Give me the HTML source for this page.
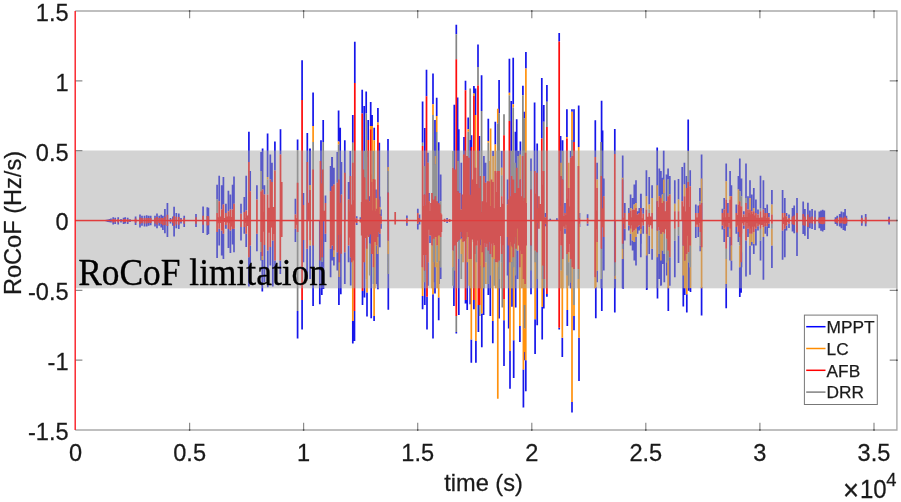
<!DOCTYPE html>
<html><head><meta charset="utf-8"><title>RoCoF</title>
<style>html,body{margin:0;padding:0;background:#fff}body{width:901px;height:502px;overflow:hidden}</style>
</head><body><svg width="901" height="502" viewBox="0 0 901 502" style="display:block">
<rect x="0" y="0" width="901" height="502" fill="#fff"/>
<defs><filter id="soft" x="-2%" y="-2%" width="104%" height="104%"><feGaussianBlur stdDeviation="0.45"/></filter></defs>
<g fill="none" id="series" filter="url(#soft)"><path d="M297.6 139.4V150.0M302.1 60.2V100.0M307.3 133.0V220.6M309.8 148.6V220.6M313.1 92.5V126.0M321.0 140.2V220.6M323.2 120.1V142.0M331.9 156.9V220.6M338.6 110.4V141.5M340.2 127.7V220.6M344.8 140.2V220.6M350.3 151.0V220.6M352.8 115.1V142.7M354.8 41.8V83.1M362.2 89.8V113.4M364.2 105.9V220.6M366.2 91.6V113.4M368.2 120.0V140.0M370.7 102.0V126.0M372.1 115.0V126.0M374.2 127.7V140.2M377.9 108.1V122.6M379.3 142.7V220.6M388.0 138.9V220.6M422.6 101.4V142.7M424.8 128.0V220.6M426.5 69.7V96.2M433.0 73.5V104.2M435.0 120.1V220.6M436.7 97.8V116.0M438.7 142.2V220.6M454.3 104.7V220.6M456.3 24.7V34.2M457.6 97.4V220.6M458.8 129.3V220.6M464.0 136.9V220.6M465.5 80.7V90.3M468.2 117.6V129.3M470.2 140.0V220.6M471.5 135.2V146.9M473.9 86.1V93.6M475.5 88.6V115.1M478.0 44.6V66.9M479.4 136.0V220.6M481.6 75.2V110.9M488.3 118.8V141.0M495.3 121.8V144.4M499.1 79.9V113.4M509.4 58.8V92.8M511.2 100.9V220.6M513.2 57.8V104.2M515.4 131.8V220.6M516.7 119.3V220.6M520.4 141.5V220.6M522.9 85.8V95.3M524.1 111.8V118.4M525.9 52.1V68.5M531.0 158.6V220.6M534.6 102.5V220.6M537.2 143.5V220.6M541.8 78.1V138.5M543.8 105.0V121.8M546.9 84.9V101.7M559.2 33.1V41.4M560.6 136.0V220.6M562.6 140.2V220.6M566.9 109.2V137.0M572.0 109.2V111.8M574.0 109.2V141.9M578.7 105.4V146.9M595.3 120.3V157.0M601.6 100.8V220.6M602.6 130.4V220.6M614.8 129.0V154.0M622.7 155.5V220.6M657.2 147.5V220.6M663.7 150.8V220.6M688.2 119.5V151.0M701.6 154.6V220.6M217.1 184.8V199.5M219.2 175.8V201.2M221.7 185.3V209.6M223.4 177.0V204.6M225.9 203.7V213.0M228.4 190.8V211.3M230.4 194.5V209.6M232.6 184.8V209.6M234.0 176.5V203.7M241.0 203.7V213.8M244.3 197.0V212.1M246.2 175.8V210.4M250.2 171.1V191.2M256.9 185.3V199.5M261.1 151.9V171.1M264.4 185.3V194.5M270.3 154.4V179.5M272.0 162.7V182.0M295.4 198.7V214.6M303.4 192.9V205.0M310.1 148.5V185.0M325.5 195.4V202.9M330.6 166.1V191.2M332.2 156.9V186.2M333.9 167.8V184.5M337.3 151.9V182.8M341.4 161.9V194.5M348.6 182.0V199.5M248.9 131.8V162.0M262.6 148.6V189.5M267.6 133.5V177.0M274.9 141.5V170.5M280.5 129.3V154.4M356.7 216.3V218.3M360.4 217.2V219.0M366.4 151.0V167.1M369.4 196.2V201.2M376.0 189.4V198.1M379.8 196.6V206.9M381.0 209.6V216.3M406.9 215.5V218.0M417.8 208.8V213.0M419.5 214.6V218.0M427.9 152.7V162.7M429.0 192.9V201.2M440.7 174.5V201.2M447.1 218.0V219.7M461.3 162.7V209.6M483.9 156.0V176.1M485.6 162.7V182.8M493.1 151.0V156.0M501.7 151.0V167.8M507.6 179.5V204.6M518.4 151.0V156.0M545.2 213.0V217.2M550.2 218.8V220.6M556.9 218.3V220.6M565.0 202.9V213.0M570.7 151.0V157.7M579.5 213.0V218.0M587.6 214.3V218.0M597.1 162.7V179.5M603.8 178.6V196.2M624.8 202.9V213.0M628.9 207.9V213.0M630.6 194.6V207.9M632.6 197.9V209.6M634.3 184.5V204.6M636.0 180.3V202.9M637.6 211.3V214.6M639.3 207.9V213.0M641.0 193.7V211.3M643.2 207.9V213.8M640.8 193.7V207.9M646.4 170.3V196.2M649.2 177.0V204.6M652.1 185.3V197.9M659.3 168.6V196.2M660.9 171.1V197.9M662.6 177.8V194.6M666.5 174.5V201.2M668.1 168.6V179.5M669.8 176.1V194.6M674.8 180.3V203.8M678.5 179.1V199.6M682.2 166.9V201.2M684.4 162.7V184.5M686.5 176.1V187.9M690.2 170.3V186.2M695.8 204.6V213.0M698.3 205.4V213.0M699.9 187.9V201.2M722.4 208.8V213.0M724.2 197.9V209.6M726.2 163.6V181.2M727.9 202.9V213.0M730.1 171.1V196.2M731.4 185.3V196.2M736.3 204.6V213.0M738.4 176.1V189.5M739.8 158.6V191.2M741.5 178.6V196.2M743.8 211.3V214.6M746.0 163.6V197.9M748.0 196.2V209.6M750.0 180.3V197.9M751.8 194.6V211.3M753.8 187.9V207.9M755.9 199.6V213.0M758.0 209.6V214.6M760.5 175.8V207.9M763.4 180.3V209.6M765.2 207.9V213.0M767.2 204.6V213.0M768.9 213.0V217.2M771.9 189.9V204.6M782.6 189.9V213.0M784.8 197.9V213.0M786.5 213.0V216.3M789.0 214.6V218.0M297.6 338.6V311.0M302.1 329.4V300.1M313.1 305.9V220.6M319.8 304.3V220.6M321.8 295.0V220.6M323.5 289.0V220.6M338.9 305.1V220.6M340.8 294.2V220.6M352.8 343.6V321.0M354.5 341.0V311.0M362.5 305.1V290.9M364.5 297.6V220.6M367.0 316.5V292.5M371.2 318.2V220.6M374.1 321.0V316.0M377.9 289.2V220.6M388.3 309.8V220.6M422.6 309.3V295.9M424.8 305.0V220.6M427.0 329.4V296.7M433.0 338.6V294.2M435.0 293.4V220.6M438.7 320.2V297.6M453.9 305.9V220.6M456.3 333.5V331.9M458.8 315.1V220.6M465.5 303.4V300.0M467.2 310.1V220.6M470.2 304.3V220.6M471.3 362.7V339.4M473.9 309.3V300.0M475.9 362.7V341.1M478.4 331.9V305.0M481.8 347.3V313.5M483.6 315.0V220.6M488.3 295.0V220.6M490.3 316.0V220.6M492.8 343.3V321.0M499.1 318.5V220.6M504.0 366.1V320.2M508.7 328.5V220.6M510.0 388.7V351.0M512.0 306.8V220.6M513.7 378.1V340.2M515.7 307.6V220.6M519.9 341.9V326.0M523.4 407.6V369.4M524.6 360.3V352.0M525.8 391.2V360.2M531.0 294.2V220.6M535.1 354.0V319.3M537.2 325.2V220.6M542.2 339.4V306.8M543.8 308.4V220.6M546.9 296.7V294.0M559.2 329.4V327.7M562.3 356.9V337.7M567.3 326.0V310.1M572.0 412.6V402.1M574.0 330.2V316.0M579.0 381.1V337.7M595.8 318.2V287.0M601.8 311.0V220.6M614.8 312.6V220.6M623.2 288.7V220.6M647.0 289.2V220.6M657.5 298.4V220.6M661.2 285.0V220.6M668.3 311.0V287.0M683.3 306.4V220.6M684.7 295.0V220.6M686.8 312.6V294.2M690.5 292.0V288.0M701.6 315.5V287.0M217.1 258.0V232.0M219.2 245.5V228.7M221.7 255.5V230.4M223.4 258.9V233.8M225.9 228.7V225.0M228.4 248.0V229.0M230.4 253.0V230.4M232.6 244.6V229.0M234.0 252.2V228.7M241.0 240.4V227.0M244.3 233.8V227.0M246.2 247.1V233.8M248.9 286.5V257.2M250.2 267.2V245.5M256.9 251.3V233.8M261.1 260.5V252.0M262.3 291.5V260.0M264.4 282.3V245.0M267.8 287.3V250.5M270.3 265.5V247.0M272.8 286.5V240.4M275.0 267.2V260.5M280.3 273.9V260.5M295.4 242.1V228.7M303.4 262.2V240.0M307.1 279.0V248.8M310.1 279.0V245.5M325.5 242.1V233.8M330.6 277.3V248.8M332.2 260.5V245.5M333.9 265.5V257.0M337.3 270.6V252.2M344.8 284.0V252.2M348.6 262.2V245.5M350.7 285.6V257.2M356.7 225.1V222.9M369.8 243.8V233.8M376.5 284.0V245.5M377.6 285.7V253.9M379.8 247.2V233.8M381.0 228.7V223.7M406.9 225.7V222.9M417.8 229.6V223.7M419.5 224.6V222.0M427.9 285.7V262.2M430.0 243.0V235.4M433.7 282.3V262.2M439.1 284.0V260.6M440.7 279.0V267.2M447.1 223.0V221.7M454.6 288.2V270.6M458.8 288.2V258.9M461.3 238.8V232.1M467.2 288.2V262.2M480.3 245.5V235.4M490.3 288.2V275.6M499.2 288.2V279.0M507.6 275.6V237.1M515.4 288.2V275.6M517.6 279.0V250.5M531.0 288.2V270.6M545.6 226.2V223.7M565.0 233.8V228.7M570.7 288.2V282.3M579.5 227.1V223.7M587.6 225.7V223.4M597.1 282.3V270.6M601.3 288.2V279.0M603.8 270.6V237.1M615.2 288.2V279.0M622.6 288.2V258.9M624.8 240.5V228.7M628.9 230.4V225.4M630.6 245.5V233.8M632.6 250.5V240.5M634.3 260.6V242.1M636.0 265.6V237.1M637.6 233.8V227.1M639.3 230.4V225.4M641.0 243.8V227.1M643.2 233.8V225.4M640.8 257.2V233.8M646.7 289.9V255.5M649.2 253.9V235.4M652.1 259.7V248.8M657.2 288.2V257.2M659.3 279.0V253.9M660.9 285.7V260.6M662.6 263.9V250.5M664.3 282.3V253.9M666.8 275.6V262.2M669.8 285.7V257.2M674.8 277.3V240.5M678.5 263.1V235.4M683.2 288.2V275.6M688.6 290.7V262.2M690.2 288.2V267.2M695.8 238.0V227.1M698.3 237.1V227.1M700.3 251.3V245.5M722.4 229.6V225.4M724.2 242.1V228.7M726.2 308.3V284.0M727.9 237.1V227.1M730.1 260.6V237.1M731.4 270.6V260.6M736.3 233.8V227.1M738.4 242.1V232.1M739.8 296.9V267.2M741.1 292.7V262.2M741.5 267.2V252.2M743.8 228.7V225.4M746.0 276.5V240.5M748.0 237.1V228.7M750.0 274.8V245.5M751.8 245.5V242.1M753.8 253.9V243.8M755.9 245.5V228.7M758.0 230.4V226.2M760.5 260.6V240.5M763.4 279.8V237.1M765.2 233.8V226.2M767.2 236.3V226.2M768.9 227.9V223.7M771.9 268.1V245.5M782.6 259.7V230.4M784.8 257.2V228.7M786.5 230.4V225.4M789.0 227.9V223.7M106.5 219.8V221.5M108.0 219.4V221.9M109.5 219.0V222.3M111.0 218.6V222.6M113.2 217.3V224.5M115.2 217.8V224.0M118.2 217.3V224.5M121.0 219.0V222.4M123.6 217.8V224.0M125.2 217.3V223.5M127.7 217.8V224.0M130.0 219.3V222.0M135.6 216.5V224.9M140.0 214.5V227.4M142.0 215.7V225.7M144.5 215.7V226.5M146.7 215.2V226.5M148.7 215.7V225.7M150.7 215.7V225.2M155.0 215.7V226.5M157.0 213.6V228.2M159.2 215.7V225.7M161.2 214.8V227.4M162.9 215.7V229.9M164.9 209.0V233.2M167.4 203.1V236.9M170.5 218.0V223.5M172.9 216.5V225.7M174.1 206.8V236.6M176.3 213.1V228.2M178.8 213.6V229.0M181.0 218.0V223.5M184.2 215.7V226.9M196.0 214.0V226.9M203.1 206.4V232.9M207.3 207.3V234.9M208.4 207.8V234.0M792.5 208.1V231.6M794.2 205.6V233.2M797.0 198.1V255.9M803.2 201.4V234.1M804.9 209.0V235.8M807.9 202.8V239.1M809.9 210.6V228.2M812.1 209.0V229.1M815.0 210.6V229.9M819.3 211.5V228.2M821.0 210.6V230.7M822.7 209.8V231.6M824.3 210.6V229.9M835.5 217.3V224.0M837.2 215.7V225.7M839.7 214.0V226.6M841.4 211.5V228.2M843.4 212.3V229.9M845.1 209.0V230.7M846.4 215.7V225.7M861.8 215.2V225.7M865.7 214.0V226.2M889.1 216.8V224.5" stroke="#1616ea" stroke-width="1.7"/>
<path d="M313.1 126.0V142.0M338.6 141.5V144.4M370.7 126.0V129.3M372.1 126.0V220.6M374.2 140.2V220.6M377.9 122.6V125.1M433.0 104.2V115.1M436.7 116.0V132.0M468.2 129.3V131.8M473.9 93.6V96.0M475.5 115.1V220.6M488.3 141.0V142.7M490.6 128.5V220.6M495.3 144.4V220.6M497.8 108.7V123.5M509.4 92.8V95.3M513.2 104.2V107.6M525.9 68.5V220.6M566.9 137.0V138.5M572.0 111.8V140.0M578.7 146.9V220.6M310.1 185.0V190.0M267.6 177.0V179.5M366.4 167.1V199.6M371.4 174.5V182.0M376.0 198.1V214.3M379.8 206.9V214.3M388.2 166.9V171.1M435.4 156.0V164.4M489.3 161.1V181.2M493.1 156.0V182.0M501.7 167.8V175.3M520.1 154.4V179.5M561.1 162.7V176.1M568.7 162.7V187.9M597.1 179.5V187.9M622.6 177.8V179.5M630.6 207.9V210.5M634.3 204.6V209.6M636.0 202.9V207.9M646.4 196.2V209.6M649.2 204.6V209.6M652.1 197.9V213.0M657.2 185.3V201.2M662.6 194.6V202.9M663.9 179.5V192.9M674.8 203.8V211.3M678.5 199.6V211.3M684.4 184.5V196.2M701.6 178.6V202.9M726.2 181.2V199.6M730.1 196.2V199.6M738.4 189.5V204.6M750.0 197.9V209.6M753.8 207.9V211.3M771.9 204.6V214.6M352.8 321.0V220.6M367.0 292.5V220.6M374.1 316.0V220.6M422.6 295.9V220.6M433.0 294.2V220.6M438.7 297.6V220.6M471.3 339.4V220.6M475.9 341.1V220.6M481.8 313.5V220.6M492.8 321.0V220.6M497.8 398.7V220.6M504.0 320.2V299.2M510.0 351.0V220.6M513.7 340.2V220.6M519.9 326.0V220.6M523.4 369.4V220.6M524.6 352.0V328.5M524.6 305.0V220.6M525.8 360.2V220.6M535.1 319.3V220.6M542.2 306.8V220.6M562.3 337.7V220.6M567.3 310.1V220.6M572.0 402.1V220.6M574.0 316.0V305.1M579.0 337.7V220.6M595.8 287.0V220.6M668.3 287.0V220.6M686.8 294.2V220.6M690.5 288.0V220.6M701.6 287.0V220.6M262.3 260.0V256.0M310.1 245.5V240.4M333.9 257.0V250.5M339.3 277.0V262.2M366.7 279.0V248.8M374.8 288.2V242.1M377.6 253.9V237.1M388.2 253.9V240.5M422.3 288.2V267.2M432.0 288.2V245.5M435.4 267.2V237.1M437.1 288.2V262.2M439.1 260.6V235.4M453.0 267.2V250.5M461.3 253.9V238.8M463.0 262.2V242.1M467.2 262.2V232.1M469.2 285.7V258.9M470.9 288.2V258.9M474.7 288.2V253.9M480.3 265.6V245.5M482.3 288.2V252.2M485.9 284.0V262.2M492.3 288.2V257.2M494.3 258.9V245.5M498.7 267.2V253.9M495.8 288.2V262.2M501.7 288.2V262.2M509.7 288.2V262.2M511.7 262.2V245.5M513.4 288.2V267.2M517.6 250.5V228.7M519.8 288.2V267.2M521.8 288.2V253.9M523.5 288.2V279.0M525.1 288.2V284.0M535.2 288.2V262.2M542.7 288.2V279.0M561.1 288.2V270.6M562.8 288.2V258.9M567.0 288.2V275.6M568.7 262.2V252.2M578.4 288.2V279.0M595.1 288.2V277.3M597.1 270.6V242.1M615.2 279.0V275.6M622.6 258.9V248.8M630.6 233.8V228.7M632.6 240.5V232.1M634.3 242.1V230.4M636.0 237.1V228.7M640.8 233.8V228.7M646.7 255.5V233.8M649.2 235.4V227.1M652.1 248.8V228.7M657.2 257.2V230.4M660.9 260.6V233.8M662.6 250.5V232.1M668.1 288.2V260.6M683.2 275.6V245.5M684.9 288.2V260.6M686.5 288.2V253.9M701.6 288.2V247.2M726.2 284.0V258.9M730.1 237.1V228.7M731.4 260.6V245.5M739.8 267.2V245.5M750.0 245.5V233.8M751.8 242.1V233.8M753.8 243.8V232.1M763.4 237.1V227.1M771.9 245.5V228.7" stroke="#ff9210" stroke-width="1.7"/>
<path d="M297.6 150.0V220.6M313.1 142.0V220.6M323.2 142.0V220.6M338.6 144.4V220.6M352.8 142.7V220.6M366.2 113.4V220.6M422.6 142.7V146.0M433.0 115.1V220.6M436.7 132.0V220.6M456.3 34.2V59.3M468.2 131.8V220.6M470.2 88.6V140.0M478.0 66.9V85.6M481.6 110.9V220.6M488.3 142.7V220.6M497.8 123.5V220.6M499.1 113.4V220.6M504.0 114.3V135.2M509.4 95.3V121.0M513.2 107.6V220.6M522.9 95.3V220.6M524.1 118.4V220.6M543.8 121.8V220.6M546.9 101.7V127.1M572.0 140.0V220.6M601.0 142.0V220.6M688.2 151.0V220.6M217.1 199.5V212.9M261.1 171.1V191.2M267.6 179.5V194.5M364.7 151.0V177.5M368.1 151.0V156.9M373.4 151.0V179.0M388.2 171.1V192.5M424.5 166.1V194.6M433.7 151.0V199.6M435.4 164.4V196.2M440.7 201.2V213.0M453.0 151.0V167.8M458.0 161.1V191.2M478.9 151.0V187.9M497.5 151.0V171.1M501.7 175.3V196.2M511.7 151.0V176.1M515.1 162.7V192.9M518.4 156.0V187.9M531.0 171.1V189.5M562.8 151.0V179.5M649.2 209.6V213.0M663.9 192.9V201.2M668.1 179.5V196.2M699.9 201.2V204.6M739.8 191.2V201.2M741.5 196.2V206.3M746.0 197.9V202.9M760.5 207.9V211.3M297.6 311.0V220.6M456.3 331.9V316.0M479.7 316.0V305.0M502.3 307.6V220.6M524.6 328.5V305.0M574.0 305.1V220.6M261.1 252.0V242.0M322.2 262.0V257.2M369.8 275.6V243.8M373.4 284.0V267.2M388.2 273.9V253.9M424.5 282.3V270.6M433.7 262.2V238.8M437.1 262.2V245.5M440.7 267.2V237.1M453.0 285.7V267.2M454.6 270.6V245.5M458.8 258.9V240.5M461.3 279.0V253.9M476.4 262.2V245.5M480.3 288.2V265.6M483.9 288.2V267.2M485.9 262.2V247.2M488.1 284.0V250.5M490.3 275.6V253.9M494.3 285.7V258.9M498.7 288.2V267.2M499.2 279.0V260.6M501.7 262.2V253.9M511.7 288.2V262.2M513.4 267.2V257.2M515.4 275.6V237.1M531.0 270.6V245.5M535.2 262.2V250.5M536.9 279.0V252.2M542.7 279.0V265.6M544.4 288.2V279.0M561.1 270.6V245.5M567.0 275.6V253.9M568.7 285.7V262.2M570.7 282.3V258.9M574.0 288.2V268.9M578.4 279.0V268.9M601.3 279.0V248.8M615.2 275.6V262.2M622.6 248.8V243.8M659.3 253.9V230.4M664.3 253.9V233.8M666.8 262.2V238.8M668.1 260.6V250.5M674.8 240.5V228.7M678.5 235.4V227.1M688.6 262.2V252.2M690.2 267.2V245.5M700.3 245.5V232.1M726.2 258.9V248.8M739.8 245.5V237.1M741.5 252.2V233.8M760.5 240.5V228.7M771.9 228.7V223.7" stroke="#858585" stroke-width="1.7"/>
<path d="M302.1 100.0V220.6M354.8 83.1V220.6M362.2 113.4V220.6M368.2 140.0V220.6M370.7 129.3V220.6M377.9 125.1V220.6M422.6 146.0V220.6M426.5 96.2V220.6M456.3 59.3V220.6M465.5 90.3V220.6M471.5 146.9V220.6M473.9 96.0V220.6M478.0 85.6V220.6M504.0 135.2V220.6M509.4 121.0V220.6M541.8 138.5V220.6M546.9 127.1V220.6M559.2 41.4V220.6M566.9 138.5V220.6M574.0 141.9V220.6M595.3 157.0V220.6M614.8 154.0V220.6M217.1 212.9V220.6M219.2 201.2V220.6M221.7 209.6V220.6M223.4 204.6V220.6M225.9 213.0V220.6M228.4 211.3V220.6M230.4 209.6V220.6M232.6 209.6V220.6M234.0 203.7V220.6M241.0 213.8V220.6M244.3 212.1V220.6M246.2 210.4V220.6M250.2 191.2V220.6M256.9 199.5V220.6M261.1 191.2V220.6M264.4 194.5V220.6M270.3 179.5V220.6M272.0 182.0V220.6M281.7 182.0V220.6M295.4 214.6V220.6M297.6 182.8V220.6M303.4 205.0V220.6M307.3 161.9V220.6M310.1 190.0V220.6M313.1 169.4V220.6M320.5 161.0V220.6M322.7 169.4V220.6M325.5 202.9V220.6M330.6 191.2V220.6M332.2 186.2V220.6M333.9 184.5V220.6M337.3 182.8V220.6M338.9 179.5V220.6M341.4 194.5V220.6M344.8 172.8V220.6M348.6 199.5V220.6M350.5 176.1V220.6M352.8 162.7V220.6M248.9 162.0V220.6M262.6 189.5V220.6M267.6 194.5V220.6M274.9 170.5V220.6M280.5 154.4V220.6M356.7 218.3V220.6M360.4 219.0V220.6M363.4 169.4V220.6M364.7 177.5V220.6M366.4 199.6V220.6M368.1 156.9V220.6M369.4 201.2V220.6M371.4 182.0V220.6M373.4 179.0V220.6M374.8 179.5V220.6M376.0 214.3V220.6M378.8 199.6V220.6M379.8 214.3V220.6M381.0 216.3V220.6M361.7 202.1V220.6M362.7 199.6V220.6M364.1 202.9V220.6M365.6 200.4V220.6M367.2 202.1V220.6M368.8 203.8V220.6M370.1 201.2V220.6M372.3 210.5V220.6M374.1 207.9V220.6M375.4 211.3V220.6M376.8 208.8V220.6M378.1 212.1V220.6M388.2 192.5V220.6M395.2 212.1V220.6M406.9 218.0V220.6M417.8 213.0V220.6M419.5 218.0V220.6M424.5 194.6V220.6M427.9 162.7V220.6M429.0 201.2V220.6M432.0 192.9V220.6M433.7 199.6V220.6M435.4 196.2V220.6M437.1 201.2V220.6M438.7 202.9V220.6M440.7 213.0V220.6M431.0 202.9V220.6M432.9 201.2V220.6M434.5 202.1V220.6M436.2 201.2V220.6M437.9 203.8V220.6M439.7 204.6V220.6M441.4 214.6V220.6M444.6 218.8V220.6M447.1 219.7V220.6M449.6 219.0V220.6M453.0 167.8V220.6M454.6 169.4V220.6M458.0 191.2V220.6M459.7 192.9V220.6M461.3 209.6V220.6M462.5 194.6V220.6M463.8 154.4V220.6M467.2 156.0V220.6M468.9 157.7V220.6M475.6 167.8V220.6M478.9 187.9V220.6M480.3 176.1V220.6M482.3 201.2V220.6M483.9 176.1V220.6M485.6 182.8V220.6M487.6 181.2V220.6M489.3 181.2V220.6M491.5 179.5V220.6M493.1 182.0V220.6M495.3 171.1V220.6M497.3 172.8V220.6M499.0 171.1V220.6M497.5 171.1V220.6M501.7 196.2V220.6M507.6 204.6V220.6M511.7 176.1V220.6M513.4 179.5V220.6M515.1 192.9V220.6M516.8 167.8V220.6M518.4 187.9V220.6M520.1 179.5V220.6M522.6 156.0V220.6M525.5 152.7V220.6M508.4 199.6V220.6M510.4 196.2V220.6M512.4 197.9V220.6M514.1 201.2V220.6M515.8 196.2V220.6M517.6 199.6V220.6M519.4 197.9V220.6M521.3 196.2V220.6M523.1 201.2V220.6M524.5 197.9V220.6M526.1 202.9V220.6M531.0 189.5V220.6M534.8 171.1V220.6M536.9 172.8V220.6M538.9 196.2V220.6M543.6 171.1V220.6M545.2 217.2V220.6M561.1 176.1V220.6M562.8 179.5V220.6M565.0 213.0V220.6M568.7 187.9V220.6M570.7 157.7V220.6M572.3 156.0V220.6M578.4 166.1V220.6M579.5 218.0V220.6M587.6 218.0V220.6M597.1 187.9V220.6M601.3 176.1V220.6M603.8 196.2V220.6M622.6 179.5V220.6M624.8 213.0V220.6M628.9 213.0V220.6M630.6 210.5V220.6M632.6 209.6V220.6M634.3 209.6V220.6M636.0 207.9V220.6M637.6 214.6V220.6M639.3 213.0V220.6M641.0 211.3V220.6M643.2 213.8V220.6M640.8 207.9V220.6M646.4 209.6V220.6M649.2 213.0V220.6M652.1 213.0V220.6M657.2 201.2V220.6M659.3 196.2V220.6M660.9 197.9V220.6M662.6 202.9V220.6M663.9 201.2V220.6M666.5 201.2V220.6M668.1 196.2V220.6M669.8 194.6V220.6M674.8 211.3V220.6M678.5 211.3V220.6M682.2 201.2V220.6M684.4 196.2V220.6M686.5 187.9V220.6M688.2 182.0V220.6M690.2 186.2V220.6M695.8 213.0V220.6M698.3 213.0V220.6M699.9 204.6V220.6M701.6 202.9V220.6M722.4 213.0V220.6M724.2 209.6V220.6M726.2 199.6V220.6M727.9 213.0V220.6M730.1 199.6V220.6M731.4 196.2V220.6M736.3 213.0V220.6M738.4 204.6V220.6M739.8 201.2V220.6M741.5 206.3V220.6M743.8 214.6V220.6M746.0 202.9V220.6M748.0 209.6V220.6M750.0 209.6V220.6M751.8 211.3V220.6M753.8 211.3V220.6M755.9 213.0V220.6M758.0 214.6V220.6M760.5 211.3V220.6M763.4 209.6V220.6M765.2 213.0V220.6M767.2 213.0V220.6M768.9 217.2V220.6M771.9 214.6V220.6M782.6 213.0V220.6M784.8 213.0V220.6M786.5 216.3V220.6M789.0 218.0V220.6M218.1 217.2V220.6M220.4 216.6V220.6M222.6 214.1V220.6M224.7 218.1V220.6M227.2 216.5V220.6M229.4 216.3V220.6M231.5 217.0V220.6M233.3 214.8V220.6M245.2 217.9V220.6M247.6 215.5V220.6M261.9 210.9V220.6M263.5 211.7V220.6M269.0 207.8V220.6M271.1 194.7V220.6M273.4 206.9V220.6M296.5 218.2V220.6M308.7 202.8V220.6M321.6 183.4V220.6M324.1 210.7V220.6M331.4 206.5V220.6M333.0 195.2V220.6M338.1 208.5V220.6M340.1 202.7V220.6M349.6 211.5V220.6M351.6 204.4V220.6M353.8 200.2V220.6M355.7 219.6V220.6M361.0 219.5V220.6M418.6 219.6V220.6M423.6 206.0V220.6M425.5 205.3V220.6M427.2 193.5V220.6M430.0 210.9V220.6M445.8 220.3V220.6M448.4 220.3V220.6M453.8 200.5V220.6M455.5 189.6V220.6M457.1 206.1V220.6M458.8 208.4V220.6M460.5 214.4V220.6M463.2 207.5V220.6M464.7 191.8V220.6M466.3 178.2V220.6M468.0 182.0V220.6M470.2 194.8V220.6M472.7 179.4V220.6M474.7 192.3V220.6M476.8 183.9V220.6M479.6 200.0V220.6M481.3 212.3V220.6M483.1 206.3V220.6M484.8 207.3V220.6M486.6 202.2V220.6M488.5 195.3V220.6M490.4 206.1V220.6M492.3 200.5V220.6M494.2 208.3V220.6M496.3 191.9V220.6M498.3 188.7V220.6M500.4 207.0V220.6M502.8 203.7V220.6M511.1 209.8V220.6M522.0 205.7V220.6M523.8 209.6V220.6M535.9 193.8V220.6M537.9 208.3V220.6M540.3 204.1V220.6M542.7 184.7V220.6M544.4 218.8V220.6M546.1 218.5V220.6M560.2 206.0V220.6M562.0 195.3V220.6M563.9 216.1V220.6M565.9 214.9V220.6M567.8 198.7V220.6M569.7 206.6V220.6M571.5 190.8V220.6M573.2 181.8V220.6M596.2 210.4V220.6M602.6 208.2V220.6M623.7 217.7V220.6M629.8 217.9V220.6M631.6 217.3V220.6M633.5 213.5V220.6M635.1 216.7V220.6M636.8 218.1V220.6M638.5 217.8V220.6M640.1 215.3V220.6M642.1 218.3V220.6M647.8 216.8V220.6M650.6 216.4V220.6M658.2 207.1V220.6M660.1 205.4V220.6M661.8 208.4V220.6M663.3 213.1V220.6M665.2 211.2V220.6M667.3 211.7V220.6M669.0 203.6V220.6M683.3 206.5V220.6M685.5 211.6V220.6M687.4 208.2V220.6M689.2 206.7V220.6M697.0 217.5V220.6M699.1 216.6V220.6M700.8 211.6V220.6M723.3 217.4V220.6M725.2 217.3V220.6M727.1 216.9V220.6M729.0 217.0V220.6M730.7 208.9V220.6M737.4 215.0V220.6M739.1 210.8V220.6M740.6 213.0V220.6M742.6 217.2V220.6M744.9 217.0V220.6M747.0 217.0V220.6M749.0 212.9V220.6M750.9 214.5V220.6M752.8 214.1V220.6M754.9 215.6V220.6M756.9 217.8V220.6M759.3 217.7V220.6M762.0 217.4V220.6M764.3 216.1V220.6M766.2 218.1V220.6M768.1 219.5V220.6M783.7 217.6V220.6M785.7 219.0V220.6M787.7 219.4V220.6M302.1 300.1V220.6M354.5 311.0V220.6M362.5 290.9V220.6M427.0 296.7V220.6M456.3 316.0V220.6M465.5 300.0V220.6M473.9 300.0V220.6M478.4 305.0V220.6M479.7 305.0V220.6M504.0 299.2V220.6M546.9 294.0V220.6M559.2 327.7V220.6M217.1 232.0V220.6M219.2 228.7V220.6M221.7 230.4V220.6M223.4 233.8V220.6M225.9 225.0V220.6M228.4 229.0V220.6M230.4 230.4V220.6M232.6 229.0V220.6M234.0 228.7V220.6M241.0 227.0V220.6M244.3 227.0V220.6M246.2 233.8V220.6M248.9 257.2V220.6M250.2 245.5V220.6M256.9 233.8V220.6M261.1 242.0V220.6M262.3 256.0V220.6M264.4 245.0V220.6M267.8 250.5V220.6M270.3 247.0V220.6M272.8 240.4V220.6M275.0 260.5V220.6M280.3 260.5V220.6M281.7 237.1V220.6M295.4 228.7V220.6M297.6 232.0V220.6M303.4 240.0V220.6M307.1 248.8V220.6M310.1 240.4V220.6M313.1 245.5V220.6M320.3 260.5V220.6M322.2 257.2V220.6M325.5 233.8V220.6M330.6 248.8V220.6M332.2 245.5V220.6M333.9 250.5V220.6M337.3 252.2V220.6M339.3 262.2V220.6M341.2 253.8V220.6M344.8 252.2V220.6M348.6 245.5V220.6M350.7 257.2V220.6M353.0 260.5V220.6M351.7 262.2V220.6M356.7 222.9V220.6M360.4 222.4V220.6M364.2 262.2V220.6M366.7 248.8V220.6M369.8 233.8V220.6M371.8 253.9V220.6M373.4 267.2V220.6M374.8 242.1V220.6M376.5 245.5V220.6M377.6 237.1V220.6M379.8 233.8V220.6M381.0 223.7V220.6M361.7 235.4V220.6M363.1 237.1V220.6M364.7 234.6V220.6M365.9 238.0V220.6M367.6 235.4V220.6M368.8 237.1V220.6M370.4 234.6V220.6M372.6 236.3V220.6M374.1 233.8V220.6M375.8 235.4V220.6M377.1 232.9V220.6M378.5 232.1V220.6M388.2 240.5V220.6M395.2 224.6V220.6M406.9 222.9V220.6M417.8 223.7V220.6M419.5 222.0V220.6M422.3 267.2V220.6M424.5 270.6V220.6M427.9 262.2V220.6M430.0 235.4V220.6M432.0 245.5V220.6M433.7 238.8V220.6M435.4 237.1V220.6M437.1 245.5V220.6M439.1 235.4V220.6M440.7 237.1V220.6M431.0 235.4V220.6M432.7 237.1V220.6M434.4 234.6V220.6M436.1 236.3V220.6M437.9 235.4V220.6M439.9 234.6V220.6M441.4 232.1V220.6M444.6 222.0V220.6M447.1 221.7V220.6M449.6 222.0V220.6M453.0 250.5V220.6M454.6 245.5V220.6M458.8 240.5V220.6M461.3 232.1V220.6M463.0 242.1V220.6M467.2 232.1V220.6M469.2 258.9V220.6M470.9 258.9V220.6M474.7 253.9V220.6M476.4 245.5V220.6M480.3 235.4V220.6M482.3 252.2V220.6M483.9 267.2V220.6M485.9 247.2V220.6M488.1 250.5V220.6M490.3 253.9V220.6M492.3 257.2V220.6M494.3 245.5V220.6M496.5 255.5V220.6M498.7 253.9V220.6M453.5 240.5V220.6M455.5 238.8V220.6M457.1 242.1V220.6M459.8 239.6V220.6M462.2 237.1V220.6M464.2 241.3V220.6M465.9 238.8V220.6M468.2 237.1V220.6M469.9 240.5V220.6M471.9 239.6V220.6M473.6 242.1V220.6M475.6 238.8V220.6M477.6 240.5V220.6M479.2 237.1V220.6M481.3 239.6V220.6M483.1 241.3V220.6M484.9 243.0V220.6M486.9 243.8V220.6M489.0 242.1V220.6M491.1 243.8V220.6M493.3 243.0V220.6M495.3 244.6V220.6M497.3 243.0V220.6M499.3 243.8V220.6M495.8 262.2V220.6M497.5 262.2V220.6M499.2 260.6V220.6M501.7 253.9V220.6M507.6 237.1V220.6M509.7 262.2V220.6M511.7 245.5V220.6M513.4 257.2V220.6M515.4 237.1V220.6M517.6 228.7V220.6M519.8 267.2V220.6M521.8 253.9V220.6M523.5 279.0V220.6M525.1 284.0V220.6M508.4 245.5V220.6M510.4 242.1V220.6M512.4 247.2V220.6M514.1 243.8V220.6M516.1 248.8V220.6M518.4 245.5V220.6M520.4 250.5V220.6M522.5 247.2V220.6M524.3 252.2V220.6M526.1 245.5V220.6M531.0 245.5V220.6M535.2 250.5V220.6M536.9 252.2V220.6M538.9 228.7V220.6M542.7 265.6V220.6M544.4 279.0V220.6M545.6 223.7V220.6M561.1 245.5V220.6M562.8 258.9V220.6M565.0 228.7V220.6M567.0 253.9V220.6M568.7 252.2V220.6M570.7 258.9V220.6M572.3 267.2V220.6M574.0 268.9V220.6M578.4 268.9V220.6M579.5 223.7V220.6M587.6 223.4V220.6M595.1 277.3V220.6M597.1 242.1V220.6M601.3 248.8V220.6M603.8 237.1V220.6M615.2 262.2V220.6M622.6 243.8V220.6M624.8 228.7V220.6M628.9 225.4V220.6M630.6 228.7V220.6M632.6 232.1V220.6M634.3 230.4V220.6M636.0 228.7V220.6M637.6 227.1V220.6M639.3 225.4V220.6M641.0 227.1V220.6M643.2 225.4V220.6M640.8 228.7V220.6M646.7 233.8V220.6M649.2 227.1V220.6M652.1 228.7V220.6M657.2 230.4V220.6M659.3 230.4V220.6M660.9 233.8V220.6M662.6 232.1V220.6M664.3 233.8V220.6M666.8 238.8V220.6M668.1 250.5V220.6M669.8 257.2V220.6M674.8 228.7V220.6M678.5 227.1V220.6M683.2 245.5V220.6M684.9 260.6V220.6M686.5 253.9V220.6M688.6 252.2V220.6M690.2 245.5V220.6M695.8 227.1V220.6M698.3 227.1V220.6M700.3 232.1V220.6M701.6 247.2V220.6M722.4 225.4V220.6M724.2 228.7V220.6M726.2 248.8V220.6M727.9 227.1V220.6M730.1 228.7V220.6M731.4 245.5V220.6M736.3 227.1V220.6M738.4 232.1V220.6M739.8 237.1V220.6M741.1 262.2V220.6M741.5 233.8V220.6M743.8 225.4V220.6M746.0 240.5V220.6M748.0 228.7V220.6M750.0 233.8V220.6M751.8 233.8V220.6M753.8 232.1V220.6M755.9 228.7V220.6M758.0 226.2V220.6M760.5 228.7V220.6M763.4 227.1V220.6M765.2 226.2V220.6M767.2 226.2V220.6M768.9 223.7V220.6M771.9 223.7V220.6M782.6 230.4V220.6M784.8 228.7V220.6M786.5 225.4V220.6M789.0 223.7V220.6M218.1 223.2V220.6M220.4 223.0V220.6M222.6 224.2V220.6M224.7 222.1V220.6M227.2 222.6V220.6M229.4 223.2V220.6M231.5 226.4V220.6M233.3 225.3V220.6M245.2 222.9V220.6M247.6 226.1V220.6M263.4 231.7V220.6M269.1 232.8V220.6M271.6 227.6V220.6M273.9 234.1V220.6M281.0 232.9V220.6M296.5 224.7V220.6M321.2 239.5V220.6M331.4 229.0V220.6M333.0 229.2V220.6M338.3 235.0V220.6M340.2 234.5V220.6M349.6 237.4V220.6M352.3 235.5V220.6M353.8 233.0V220.6M355.6 222.3V220.6M361.0 221.6V220.6M371.1 225.7V220.6M379.1 226.9V220.6M418.6 221.1V220.6M420.9 221.4V220.6M423.4 255.1V220.6M425.8 255.0V220.6M428.9 229.7V220.6M445.8 221.1V220.6M448.4 221.1V220.6M458.0 228.1V220.6M460.6 228.0V220.6M464.8 231.8V220.6M466.5 228.1V220.6M472.7 229.1V220.6M489.6 229.2V220.6M500.5 236.0V220.6M502.8 245.3V220.6M509.1 237.6V220.6M511.1 234.9V220.6M514.8 231.6V220.6M516.8 225.8V220.6M519.1 230.6V220.6M521.1 236.5V220.6M536.0 234.4V220.6M537.9 223.1V220.6M543.6 234.7V220.6M546.2 221.9V220.6M560.2 231.0V220.6M562.0 235.8V220.6M563.9 226.5V220.6M566.0 224.7V220.6M567.8 243.4V220.6M569.7 244.1V220.6M571.5 248.5V220.6M573.2 242.2V220.6M596.1 229.2V220.6M602.6 227.2V220.6M623.7 223.8V220.6M629.8 222.5V220.6M631.6 225.3V220.6M633.5 227.5V220.6M635.1 226.1V220.6M636.8 223.9V220.6M638.5 223.4V220.6M640.1 223.8V220.6M642.1 222.2V220.6M648.0 224.5V220.6M650.6 225.2V220.6M658.2 227.0V220.6M660.1 226.9V220.6M661.8 226.5V220.6M663.4 225.0V220.6M665.5 229.2V220.6M667.5 228.8V220.6M669.0 240.3V220.6M684.0 238.9V220.6M685.7 236.5V220.6M687.5 235.8V220.6M689.4 238.7V220.6M697.0 224.6V220.6M699.3 223.0V220.6M700.9 224.7V220.6M723.3 222.4V220.6M725.2 226.4V220.6M727.1 224.9V220.6M729.0 223.0V220.6M730.7 226.1V220.6M737.4 225.4V220.6M739.1 227.4V220.6M740.5 228.2V220.6M742.6 223.2V220.6M744.9 222.3V220.6M747.0 223.1V220.6M749.0 226.6V220.6M750.9 228.4V220.6M752.8 226.8V220.6M754.9 226.5V220.6M756.9 223.4V220.6M759.3 224.5V220.6M762.0 224.9V220.6M764.3 222.8V220.6M766.2 222.9V220.6M768.1 221.9V220.6M783.7 223.9V220.6M785.7 223.3V220.6M787.7 221.9V220.6M113.2 218.9V222.6M115.2 219.2V222.3M118.2 218.9V222.6M123.6 219.2V222.3M125.2 218.9V222.1M127.7 219.2V222.3M135.6 218.6V222.8M140.0 217.6V224.0M142.0 218.1V223.1M144.5 218.1V223.6M146.7 217.9V223.6M148.7 218.1V223.1M150.7 218.1V222.9M155.0 218.1V223.6M157.0 217.1V224.4M159.2 218.1V223.1M161.2 217.7V224.0M162.9 218.1V225.2M164.9 216.7V224.9M167.4 214.7V226.1M170.5 219.3V222.1M172.9 218.6V223.1M174.1 215.9V226.0M176.3 216.8V224.4M178.8 217.1V224.8M181.0 219.3V222.1M184.2 218.1V223.8M196.0 217.3V223.8M203.1 215.8V224.8M207.3 216.1V225.5M208.4 216.2V225.2M792.5 216.4V224.3M794.2 215.5V224.9M797.0 212.9V232.6M803.2 214.1V225.2M804.9 216.6V225.8M807.9 214.5V226.9M809.9 217.2V223.2M812.1 216.6V223.5M815.0 217.2V223.8M819.3 217.5V223.2M821.0 217.2V224.0M822.7 216.9V224.3M824.3 217.2V223.8M835.5 219.0V222.3M837.2 218.1V223.2M839.7 217.3V223.6M841.4 217.5V223.2M843.4 217.8V223.8M845.1 216.6V224.0M846.4 218.1V223.2M861.8 217.9V223.2M865.7 217.3V223.4M889.1 218.7V222.6" stroke="#fd0808" stroke-width="1.7"/></g>
<path d="M75.3 220.6H896.8" stroke="#fd0808" stroke-width="1.5"/>
<rect x="75.3" y="150.5" width="821.5" height="137.8" fill="#a4a4a4" fill-opacity="0.48"/>
<path d="M75.2 11.0H896.9V430.0H75.2" stroke="#ababab" stroke-width="1.4" fill="none"/>
<path d="M189.6 430.0v-7.2M189.6 11.0v7.2M303.6 430.0v-7.2M303.6 11.0v7.2M417.7 430.0v-7.2M417.7 11.0v7.2M531.8 430.0v-7.2M531.8 11.0v7.2M645.8 430.0v-7.2M645.8 11.0v7.2M759.9 430.0v-7.2M759.9 11.0v7.2M874.0 430.0v-7.2M874.0 11.0v7.2M75.2 80.8h7.2M896.9 80.8h-7.2M75.2 150.7h7.2M896.9 150.7h-7.2M896.9 220.5h-7.2M75.2 290.3h7.2M896.9 290.3h-7.2M75.2 360.2h7.2M896.9 360.2h-7.2" stroke="#8c8c8c" stroke-width="1.2" fill="none"/>
<path d="M188.9 429.3h1.4v1.4h-1.4zM188.9 10.3h1.4v1.4h-1.4zM302.9 429.3h1.4v1.4h-1.4zM302.9 10.3h1.4v1.4h-1.4zM417.0 429.3h1.4v1.4h-1.4zM417.0 10.3h1.4v1.4h-1.4zM531.1 429.3h1.4v1.4h-1.4zM531.1 10.3h1.4v1.4h-1.4zM645.1 429.3h1.4v1.4h-1.4zM645.1 10.3h1.4v1.4h-1.4zM759.2 429.3h1.4v1.4h-1.4zM759.2 10.3h1.4v1.4h-1.4zM873.3 429.3h1.4v1.4h-1.4zM873.3 10.3h1.4v1.4h-1.4zM896.2 80.1h1.4v1.4h-1.4zM896.2 150.0h1.4v1.4h-1.4zM896.2 219.8h1.4v1.4h-1.4zM896.2 289.6h1.4v1.4h-1.4zM896.2 359.5h1.4v1.4h-1.4z" fill="#444"/>
<path d="M75.2 11.0V430.0" stroke="#fa1a22" stroke-width="1.4"/>
<path d="M75.2 220.6H896.9" stroke="#ff1010" stroke-width="1.3" opacity="0.32"/>
<text transform="translate(68.6,20.8) scale(1,1.045)" text-anchor="end" font-family="Liberation Sans, Arial, sans-serif" font-size="23.6" fill="#1a1a1a" stroke="#1a1a1a" stroke-width="0.25">1.5</text>
<text transform="translate(68.6,90.6) scale(1,1.045)" text-anchor="end" font-family="Liberation Sans, Arial, sans-serif" font-size="23.6" fill="#1a1a1a" stroke="#1a1a1a" stroke-width="0.25">1</text>
<text transform="translate(68.6,160.5) scale(1,1.045)" text-anchor="end" font-family="Liberation Sans, Arial, sans-serif" font-size="23.6" fill="#1a1a1a" stroke="#1a1a1a" stroke-width="0.25">0.5</text>
<text transform="translate(68.6,230.3) scale(1,1.045)" text-anchor="end" font-family="Liberation Sans, Arial, sans-serif" font-size="23.6" fill="#1a1a1a" stroke="#1a1a1a" stroke-width="0.25">0</text>
<text transform="translate(68.6,300.1) scale(1,1.045)" text-anchor="end" font-family="Liberation Sans, Arial, sans-serif" font-size="23.6" fill="#1a1a1a" stroke="#1a1a1a" stroke-width="0.25">-0.5</text>
<text transform="translate(68.6,370.0) scale(1,1.045)" text-anchor="end" font-family="Liberation Sans, Arial, sans-serif" font-size="23.6" fill="#1a1a1a" stroke="#1a1a1a" stroke-width="0.25">-1</text>
<text transform="translate(68.6,439.8) scale(1,1.045)" text-anchor="end" font-family="Liberation Sans, Arial, sans-serif" font-size="23.6" fill="#1a1a1a" stroke="#1a1a1a" stroke-width="0.25">-1.5</text>
<text transform="translate(75.5,460.6) scale(1,1.045)" text-anchor="middle" font-family="Liberation Sans, Arial, sans-serif" font-size="23.6" fill="#1a1a1a" stroke="#1a1a1a" stroke-width="0.25">0</text>
<text transform="translate(189.6,460.6) scale(1,1.045)" text-anchor="middle" font-family="Liberation Sans, Arial, sans-serif" font-size="23.6" fill="#1a1a1a" stroke="#1a1a1a" stroke-width="0.25">0.5</text>
<text transform="translate(303.6,460.6) scale(1,1.045)" text-anchor="middle" font-family="Liberation Sans, Arial, sans-serif" font-size="23.6" fill="#1a1a1a" stroke="#1a1a1a" stroke-width="0.25">1</text>
<text transform="translate(417.7,460.6) scale(1,1.045)" text-anchor="middle" font-family="Liberation Sans, Arial, sans-serif" font-size="23.6" fill="#1a1a1a" stroke="#1a1a1a" stroke-width="0.25">1.5</text>
<text transform="translate(531.8,460.6) scale(1,1.045)" text-anchor="middle" font-family="Liberation Sans, Arial, sans-serif" font-size="23.6" fill="#1a1a1a" stroke="#1a1a1a" stroke-width="0.25">2</text>
<text transform="translate(645.8,460.6) scale(1,1.045)" text-anchor="middle" font-family="Liberation Sans, Arial, sans-serif" font-size="23.6" fill="#1a1a1a" stroke="#1a1a1a" stroke-width="0.25">2.5</text>
<text transform="translate(759.9,460.6) scale(1,1.045)" text-anchor="middle" font-family="Liberation Sans, Arial, sans-serif" font-size="23.6" fill="#1a1a1a" stroke="#1a1a1a" stroke-width="0.25">3</text>
<text transform="translate(874.0,460.6) scale(1,1.045)" text-anchor="middle" font-family="Liberation Sans, Arial, sans-serif" font-size="23.6" fill="#1a1a1a" stroke="#1a1a1a" stroke-width="0.25">3.5</text>
<text transform="translate(483.5,490.7) scale(1,1.045)" text-anchor="middle" font-family="Liberation Sans, Arial, sans-serif" font-size="23.6" fill="#1a1a1a" stroke="#1a1a1a" stroke-width="0.25">time (s)</text>
<text transform="translate(21.0,223.0) rotate(-90) scale(1,1.045)" text-anchor="middle" font-family="Liberation Sans, Arial, sans-serif" font-size="23.6" fill="#1a1a1a" stroke="#1a1a1a" stroke-width="0.25">RoCoF (Hz/s)</text>
<text transform="translate(843.0,500.3) scale(1,1.045)" text-anchor="start" font-family="Liberation Sans, Arial, sans-serif" font-size="27.5" fill="#1a1a1a" stroke="#1a1a1a" stroke-width="0.25">×</text>
<text transform="translate(859.9,497.8) scale(1,1.045)" text-anchor="start" font-family="Liberation Sans, Arial, sans-serif" font-size="24" fill="#1a1a1a" stroke="#1a1a1a" stroke-width="0.25">10</text>
<text transform="translate(886.3,486.4) scale(1,1.045)" text-anchor="start" font-family="Liberation Sans, Arial, sans-serif" font-size="18.4" fill="#1a1a1a" stroke="#1a1a1a" stroke-width="0.25">4</text>
<text transform="translate(78.2,284.7) scale(1,1.085)" font-family="Liberation Serif, Times New Roman, serif" font-size="35.4" fill="#000" stroke="#000" stroke-width="0.3">RoCoF limitation</text>
<g id="legend">
<rect x="804.4" y="315.1" width="72.9" height="89.4" fill="#fff" stroke="#777" stroke-width="1"/>
<path d="M806.2 326.7h19.3" stroke="#0000ff" stroke-width="1.5"/>
<text x="826.6" y="332.9" font-family="Liberation Sans, Arial, sans-serif" font-size="17.3" fill="#1a1a1a" stroke="#1a1a1a" stroke-width="0.25">MPPT</text>
<path d="M806.2 348.5h19.3" stroke="#ff8c00" stroke-width="1.5"/>
<text x="826.6" y="354.7" font-family="Liberation Sans, Arial, sans-serif" font-size="17.3" fill="#1a1a1a" stroke="#1a1a1a" stroke-width="0.25">LC</text>
<path d="M806.2 370.3h19.3" stroke="#ff0000" stroke-width="1.5"/>
<text x="826.6" y="376.5" font-family="Liberation Sans, Arial, sans-serif" font-size="17.3" fill="#1a1a1a" stroke="#1a1a1a" stroke-width="0.25">AFB</text>
<path d="M806.2 392.1h19.3" stroke="#808080" stroke-width="1.5"/>
<text x="826.6" y="398.3" font-family="Liberation Sans, Arial, sans-serif" font-size="17.3" fill="#1a1a1a" stroke="#1a1a1a" stroke-width="0.25">DRR</text>
</g>
</svg></body></html>
